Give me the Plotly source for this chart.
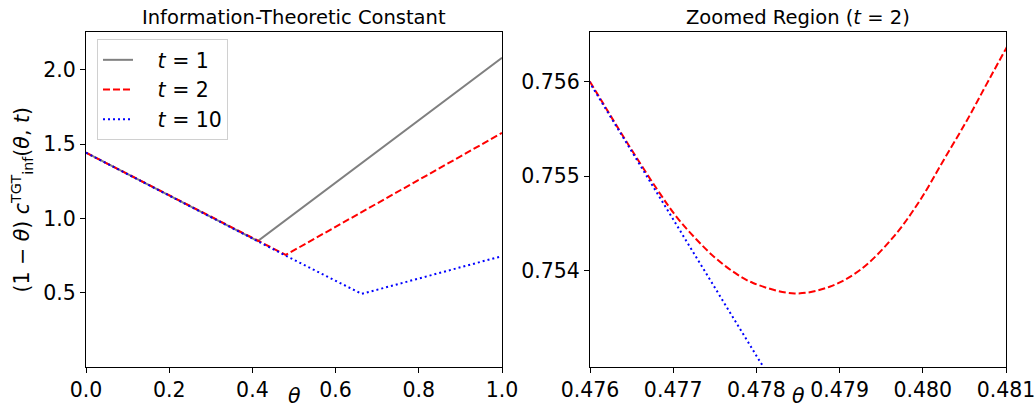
import plotly.graph_objects as go

# ---- data ----
theta_t1 = [0.0, 0.413, 1.0]
vals_t1 = [1.4427, 0.848, 2.081]

theta_t2 = [0.0, 0.47600, 0.47640, 0.47680, 0.47704, 0.47728, 0.47750, 0.47772,
            0.47796, 0.47846, 0.47888, 0.47925, 0.47965, 0.47997, 0.48025,
            0.48053, 0.48077, 0.48100, 1.0]
vals_t2 = [1.4427, 0.75600, 0.75542, 0.75487, 0.75457, 0.75433, 0.75414, 0.75399,
           0.75387, 0.75376, 0.75383, 0.75401, 0.75436, 0.75475, 0.75517,
           0.75559, 0.75598, 0.75635, 1.576]

theta_t10 = [0.0, 0.476, 0.478, 0.6627, 1.0]
vals_t10 = [1.4427, 0.75600, 0.75310, 0.493, 0.747]

left_xticks = [0.0, 0.2, 0.4, 0.6, 0.8, 1.0]
left_yticks = [0.5, 1.0, 1.5, 2.0]
right_xticks = [0.476, 0.477, 0.478, 0.479, 0.480, 0.481]
right_yticks = [0.754, 0.755, 0.756]

FONT = "DejaVu Sans"
W, H = 1035, 409
TICK = 20.5
TITLE = 19.5

fig = go.Figure()

PAD = "&nbsp;&nbsp;&nbsp;"
series = [
    (theta_t1, vals_t1, PAD + "<i>t</i>&nbsp;=&nbsp;1", dict(color="gray", width=2, dash="solid")),
    (theta_t2, vals_t2, PAD + "<i>t</i>&nbsp;=&nbsp;2", dict(color="red", width=2, dash="7px,3px")),
    (theta_t10, vals_t10, PAD + "<i>t</i>&nbsp;=&nbsp;10", dict(color="blue", width=2, dash="2px,3px")),
]
for x, y, name, line in series:
    fig.add_trace(go.Scatter(x=x, y=y, mode="lines", name=name, line=line,
                             xaxis="x", yaxis="y", showlegend=True))
# zoomed panel: t=2 (smooth) and t=10
x, y, name, line = series[1]
fig.add_trace(go.Scatter(x=x, y=y, mode="lines", name=name,
                         line=dict(**line, shape="spline", smoothing=1.0),
                         xaxis="x2", yaxis="y2", showlegend=False))
x, y, name, line = series[2]
fig.add_trace(go.Scatter(x=x, y=y, mode="lines", name=name, line=line,
                         xaxis="x2", yaxis="y2", showlegend=False))

ax_common = dict(showline=True, mirror=True, linecolor="black", linewidth=1,
                 ticks="outside", ticklen=5, tickwidth=1, tickcolor="black",
                 showgrid=False, zeroline=False, automargin=False,
                 ticklabeloverflow="allow",
                 tickfont=dict(family=FONT, size=TICK, color="black"))

top = 1 - 32.3 / H
bot = 1 - 366.7 / H

fig.update_layout(
    width=W, height=H,
    margin=dict(l=0, r=0, t=0, b=0, autoexpand=False),
    paper_bgcolor="white", plot_bgcolor="white",
    font=dict(family=FONT, size=TICK, color="black"),
    xaxis=dict(domain=[86 / W, 502 / W], range=[0, 1], tickvals=left_xticks,
               ticktext=[f"{v:.1f}" for v in left_xticks], anchor="y", **ax_common),
    yaxis=dict(domain=[bot, top], range=[0.003, 2.253], tickvals=left_yticks,
               ticktext=[f"{v:.1f}" for v in left_yticks], anchor="x", **ax_common),
    xaxis2=dict(domain=[590 / W, 1006 / W], range=[0.476, 0.481], tickvals=right_xticks,
                ticktext=[f"{v:.3f}" for v in right_xticks], anchor="y2", **ax_common),
    yaxis2=dict(domain=[bot, top], range=[0.752984, 0.756523], tickvals=right_yticks,
                ticktext=[f"{v:.3f}" for v in right_yticks], anchor="x2", **ax_common),
    legend=dict(x=97 / W, y=1 - 39 / H, xanchor="left", yanchor="top",
                bgcolor="rgba(255,255,255,0.8)", bordercolor="#d0d0d0", borderwidth=1,
                font=dict(family=FONT, size=TICK, color="black"),
                tracegroupgap=0),
    showlegend=True,
    hovermode=False,
)

annotations = [
    dict(text="Information-Theoretic Constant", x=(86 + 502) / 2 / W, y=1 - 17 / H,
         xref="paper", yref="paper", showarrow=False, xanchor="center", yanchor="middle",
         font=dict(family=FONT, size=TITLE, color="black")),
    dict(text="Zoomed Region (<i>t</i> = 2)", x=(590 + 1006) / 2 / W, y=1 - 17 / H,
         xref="paper", yref="paper", showarrow=False, xanchor="center", yanchor="middle",
         font=dict(family=FONT, size=TITLE, color="black")),
    dict(text="<i>θ</i>", x=(86 + 502) / 2 / W, y=1 - 396 / H,
         xref="paper", yref="paper", showarrow=False, xanchor="center", yanchor="middle",
         font=dict(family=FONT, size=TICK, color="black")),
    dict(text="<i>θ</i>", x=(590 + 1006) / 2 / W, y=1 - 396 / H,
         xref="paper", yref="paper", showarrow=False, xanchor="center", yanchor="middle",
         font=dict(family=FONT, size=TICK, color="black")),
    dict(text="(1 − <i>θ</i>) <i>c</i><sup>TGT</sup><sub>inf</sub>(<i>θ</i>, <i>t</i>)",
         x=22 / W, y=(bot + top) / 2, textangle=-90,
         xref="paper", yref="paper", showarrow=False, xanchor="center", yanchor="middle",
         font=dict(family=FONT, size=TICK, color="black")),
]
fig.update_layout(annotations=annotations)

fig.write_html("out.html", config={"displayModeBar": False},
               post_script="document.body.style.margin='0';document.body.style.overflow='hidden';")
